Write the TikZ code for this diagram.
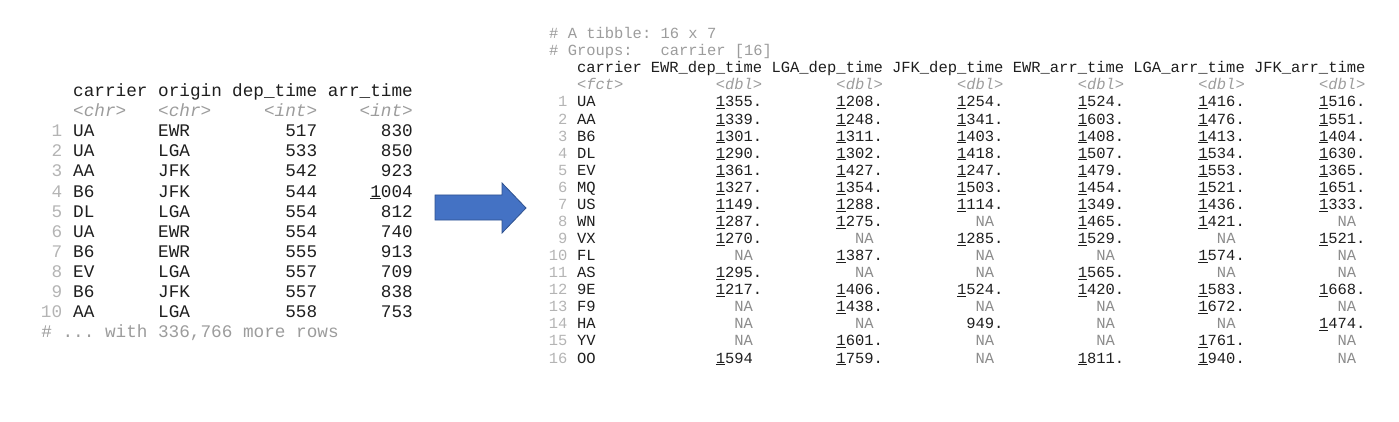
\documentclass[tikz,border=0pt]{standalone}
\usepackage{fontspec}
\setmonofont{Liberation Mono}
\definecolor{arrowblue}{HTML}{4472C4}
\definecolor{arrowedge}{HTML}{2F528F}
\definecolor{ink}{HTML}{1E1E1E}
\definecolor{idgray}{HTML}{B4B4B4}
\definecolor{typegray}{HTML}{9C9C9C}
\definecolor{nagray}{HTML}{8C8C8C}

\newcommand{\lsize}{\fontsize{17.7}{20}\selectfont}
\newcommand{\rsize}{\fontsize{15.47}{18}\selectfont}
\newcommand{\lead}[1]{\underline{1}#1}
\newcommand{\na}{\textcolor{nagray}{NA}\phantom{.}}

\tikzset{
  lcell/.style={inner sep=0pt, text=ink, font=\ttfamily\lsize},
  rcell/.style={inner sep=0pt, text=ink, font=\ttfamily\rsize},
  ltype/.style={inner sep=0pt, text=typegray, font=\ttfamily\itshape\lsize},
  rtype/.style={inner sep=0pt, text=typegray, font=\ttfamily\itshape\rsize},
  idnum/.style={text=idgray},
  note/.style={text=typegray}
}

\begin{document}
\begin{tikzpicture}[x=1pt,y=-1pt]
\useasboundingbox (0,0) rectangle (1399,422);

% Left table: the flights data
\node[lcell, anchor=base west] (L-h-car) at (73,97) {carrier};
\node[lcell, anchor=base west] (L-h-ori) at (158,97) {origin};
\node[lcell, anchor=base east] (L-h-dep) at (317.4,97) {dep\_time};
\node[lcell, anchor=base east] (L-h-arr) at (413,97) {arr\_time};
\node[ltype, anchor=base west] (L-t-car) at (73,117) {<chr>};
\node[ltype, anchor=base west] (L-t-ori) at (158,117) {<chr>};
\node[ltype, anchor=base east] (L-t-dep) at (317.4,117) {<int>};
\node[ltype, anchor=base east] (L-t-arr) at (413,117) {<int>};
\foreach \k/\car/\ori/\dep/\arr in {1/UA/EWR/517/830, 2/UA/LGA/533/850,
    3/AA/JFK/542/923, 4/B6/JFK/544/\lead{004}, 5/DL/LGA/554/812,
    6/UA/EWR/554/740, 7/B6/EWR/555/913, 8/EV/LGA/557/709,
    9/B6/JFK/557/838, 10/AA/LGA/558/753}{
  \pgfmathsetmacro{\yb}{137+20*(\k-1)}
  \node[lcell, idnum, anchor=base east] (L-\k-id) at (62.4,\yb) {\k};
  \node[lcell, anchor=base west] (L-\k-car) at (73,\yb) {\car};
  \node[lcell, anchor=base west] (L-\k-ori) at (158,\yb) {\ori};
  \node[lcell, anchor=base east] (L-\k-dep) at (317.4,\yb) {\dep};
  \node[lcell, anchor=base east] (L-\k-arr) at (413,\yb) {\arr};
}
\node[lcell, note, anchor=base west] (L-foot) at (41.1,337) {\# ... with 336,766 more rows};

% Block arrow
\filldraw[fill=arrowblue, draw=arrowedge, line width=0.8pt]
  (435,195) -- (502,195) -- (502,183) -- (526,208) -- (502,233) -- (502,220) -- (435,220) -- cycle;

% Right table: mean times per carrier and airport
\node[rcell, note, anchor=base west] (R-title) at (549,38.7) {\# A tibble: 16 x 7};
\node[rcell, note, anchor=base west] (R-group) at (549,55.8) {\# Groups:~~~carrier [16]};
\node[rcell, anchor=base west] (R-h-car) at (576.8,72.9) {carrier};
\node[rcell, anchor=base east] (R-h-ed) at (762.4,72.9) {EWR\_dep\_time};
\node[rcell, anchor=base east] (R-h-ld) at (883.1,72.9) {LGA\_dep\_time};
\node[rcell, anchor=base east] (R-h-jd) at (1003.7,72.9) {JFK\_dep\_time};
\node[rcell, anchor=base east] (R-h-ea) at (1124.4,72.9) {EWR\_arr\_time};
\node[rcell, anchor=base east] (R-h-la) at (1245,72.9) {LGA\_arr\_time};
\node[rcell, anchor=base east] (R-h-ja) at (1365.6,72.9) {JFK\_arr\_time};
\node[rtype, anchor=base west] (R-t-car) at (576.8,89.9) {<fct>};
\node[rtype, anchor=base east] (R-t-ed) at (762.4,89.9) {<dbl>};
\node[rtype, anchor=base east] (R-t-ld) at (883.1,89.9) {<dbl>};
\node[rtype, anchor=base east] (R-t-jd) at (1003.7,89.9) {<dbl>};
\node[rtype, anchor=base east] (R-t-ea) at (1124.4,89.9) {<dbl>};
\node[rtype, anchor=base east] (R-t-la) at (1245,89.9) {<dbl>};
\node[rtype, anchor=base east] (R-t-ja) at (1365.6,89.9) {<dbl>};
\foreach \k/\car/\ed/\ld/\jd/\ea/\la/\ja in {
    1/UA/\lead{355.}/\lead{208.}/\lead{254.}/\lead{524.}/\lead{416.}/\lead{516.},
    2/AA/\lead{339.}/\lead{248.}/\lead{341.}/\lead{603.}/\lead{476.}/\lead{551.},
    3/B6/\lead{301.}/\lead{311.}/\lead{403.}/\lead{408.}/\lead{413.}/\lead{404.},
    4/DL/\lead{290.}/\lead{302.}/\lead{418.}/\lead{507.}/\lead{534.}/\lead{630.},
    5/EV/\lead{361.}/\lead{427.}/\lead{247.}/\lead{479.}/\lead{553.}/\lead{365.},
    6/MQ/\lead{327.}/\lead{354.}/\lead{503.}/\lead{454.}/\lead{521.}/\lead{651.},
    7/US/\lead{149.}/\lead{288.}/\lead{114.}/\lead{349.}/\lead{436.}/\lead{333.},
    8/WN/\lead{287.}/\lead{275.}/\na/\lead{465.}/\lead{421.}/\na,
    9/VX/\lead{270.}/\na/\lead{285.}/\lead{529.}/\na/\lead{521.},
    10/FL/\na/\lead{387.}/\na/\na/\lead{574.}/\na,
    11/AS/\lead{295.}/\na/\na/\lead{565.}/\na/\na,
    12/9E/\lead{217.}/\lead{406.}/\lead{524.}/\lead{420.}/\lead{583.}/\lead{668.},
    13/F9/\na/\lead{438.}/\na/\na/\lead{672.}/\na,
    14/HA/\na/\na/949./\na/\na/\lead{474.},
    15/YV/\na/\lead{601.}/\na/\na/\lead{761.}/\na,
    16/OO/\lead{594}\phantom{.}/\lead{759.}/\na/\lead{811.}/\lead{940.}/\na}{
  \pgfmathsetmacro{\yb}{107+17.07*(\k-1)}
  \node[rcell, idnum, anchor=base east] (R-\k-id) at (567.6,\yb) {\k};
  \node[rcell, anchor=base west] (R-\k-car) at (576.8,\yb) {\car};
  \node[rcell, anchor=base east] (R-\k-ed) at (762.4,\yb) {\ed};
  \node[rcell, anchor=base east] (R-\k-ld) at (883.1,\yb) {\ld};
  \node[rcell, anchor=base east] (R-\k-jd) at (1003.7,\yb) {\jd};
  \node[rcell, anchor=base east] (R-\k-ea) at (1124.4,\yb) {\ea};
  \node[rcell, anchor=base east] (R-\k-la) at (1245,\yb) {\la};
  \node[rcell, anchor=base east] (R-\k-ja) at (1365.6,\yb) {\ja};
}
\end{tikzpicture}
\end{document}
